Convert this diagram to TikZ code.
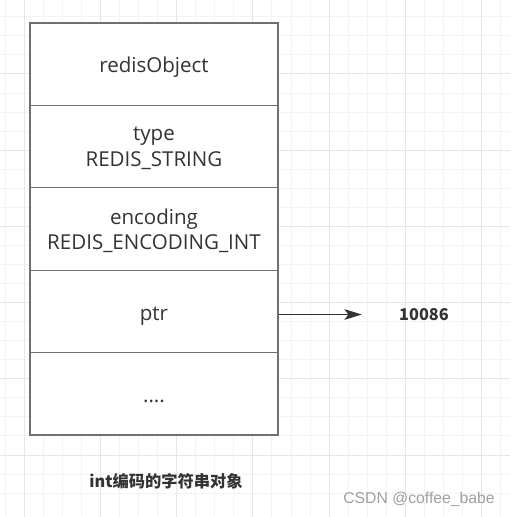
\documentclass[tikz,border=0pt]{standalone}
\usepackage{fontspec}
\setmainfont{Open Sans}
\newfontfamily\cjk{Noto Sans CJK SC}
\newfontfamily\wmark{Liberation Sans}
\usepackage{xcolor}
\usepackage{tikz}
\usetikzlibrary{arrows.meta}
\usetikzlibrary{shapes}

\definecolor{gridminor}{HTML}{F3F3F3}
\definecolor{gridmajor}{HTML}{E6E6E6}
\definecolor{boxline}{HTML}{707070}
\definecolor{ink}{HTML}{333333}
\definecolor{markgray}{HTML}{A0A0A0}

\tikzset{
    cell/.style = {draw = boxline, line width = 0.8pt, fill = white, text = ink,
        minimum width = 186pt, minimum height = 61.8pt, inner sep = 0pt,
        text depth = 0pt, align = center, font = \fontsize{15.4}{19}\selectfont},
    onecell/.style = {cell, text height = 13pt},
    boldtxt/.style = {text = ink, inner sep = 0pt,
        font = \cjk\bfseries\fontsize{12.2}{14}\selectfont}
}

\begin{document}
\begin{tikzpicture}[x = 0.75pt, y = -0.75pt]
        \useasboundingbox (0, 0) rectangle (510, 517);
        \fill[white] (0, 0) rectangle (510, 517);

        % background grid
        \foreach \k in {0, ..., 26} {
            \draw[gridminor, line width = 0.75pt] (5.25 + 19.05 * \k, 0) -- (5.25 + 19.05 * \k, 517);
            \draw[gridminor, line width = 0.75pt] (0, -2.2 + 19.05 * \k) -- (510, -2.2 + 19.05 * \k);
        }
        \foreach \k in {0, ..., 6} {
            \draw[gridmajor, line width = 0.75pt] (24.3 + 76.2 * \k, 0) -- (24.3 + 76.2 * \k, 517);
            \draw[gridmajor, line width = 0.75pt] (0, -2.2 + 76.2 * \k) -- (510, -2.2 + 76.2 * \k);
        }

        % the object
        \node[onecell] (obj) at (154, 64.2) {redisObject};
        \node[cell] (type) at (154, 146.6) {type\\REDIS\_STRING};
        \node[cell] (enc) at (154, 229) {encoding\\REDIS\_ENCODING\_INT};
        \node[onecell] (ptr) at (154, 311.4) {ptr};
        \node[onecell] (more) at (154, 393.8) {....};

        \node[boldtxt, minimum width = 93pt] (val) at (424, 314.5) {10086};
        \draw[ink, line width = 1pt, -{Stealth[length = 13pt, width = 8pt, inset = 3pt]}]
            (ptr.east |- val) -- (val.west);

        \node[boldtxt] (caption) at (166, 481) {int编码的字符串对象};
        \node[text = markgray, inner sep = 0pt, font = \wmark\fontsize{11.8}{14}\selectfont]
            (mark) at (419, 499) {CSDN @coffee\_babe};
    \end{tikzpicture}
\end{document}
